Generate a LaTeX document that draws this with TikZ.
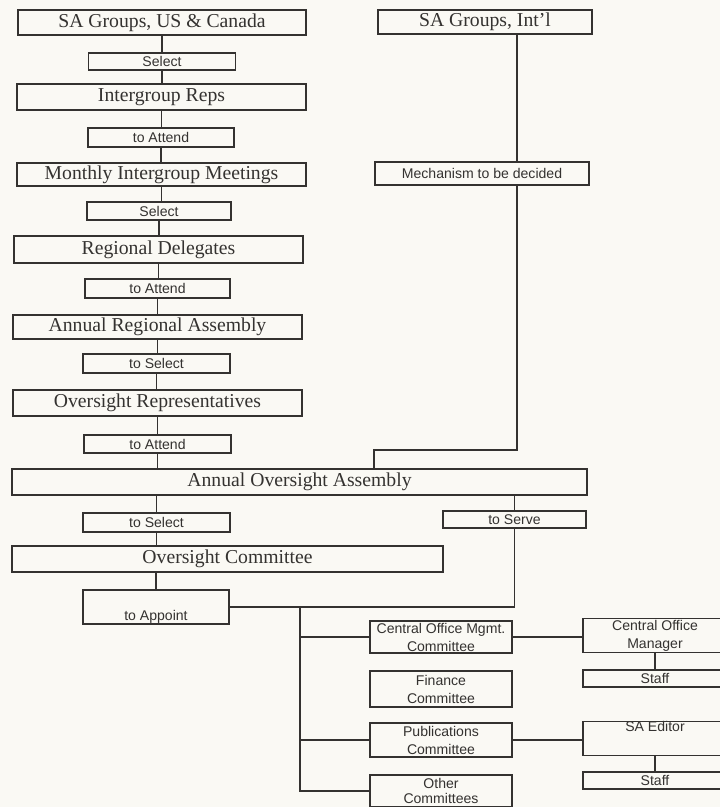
\documentclass[tikz,border=0pt]{standalone}
\usepackage{fontspec}
\setmainfont{Liberation Serif}
\setsansfont{Liberation Sans}
\definecolor{paper}{RGB}{250,249,244}
\definecolor{ink}{RGB}{52,50,48}
\tikzset{
  bigbox/.style={draw=ink, line width=1.1pt, text=ink, inner sep=0pt,
    minimum width=7.22cm, minimum height=0.63cm, font=\fontsize{14}{16}\selectfont},
  smallbox/.style={draw=ink, line width=1.1pt, text=ink, inner sep=0pt, align=center,
    minimum width=3.65cm, minimum height=0.46cm, font=\sffamily\fontsize{10}{12.8}\selectfont},
  link/.style={draw=ink, line width=1.1pt}
}
\begin{document}
\begin{tikzpicture}[x=0.025cm,y=-0.025cm]
  \path[use as bounding box, fill=paper] (0,0) rectangle (720,807);
  \clip (0,0) rectangle (720,807);
  % left column
  \node[bigbox, minimum width=7.2cm, minimum height=0.62cm] (usca) at (162,22.5) {SA Groups, US \& Canada};
  \node[smallbox, minimum width=3.675cm, minimum height=0.43cm] (sel1) at (162,61.5) {Select};
  \node[bigbox, minimum height=0.65cm] (reps) at (161.5,97) {Intergroup Reps};
  \node[smallbox, minimum height=0.47cm] (att1) at (161,137.5) {to Attend};
  \node[bigbox, minimum height=0.575cm] (monthly) at (161.5,174.5) {Monthly Intergroup Meetings};
  \node[smallbox, minimum width=3.6cm, minimum height=0.45cm] (sel2) at (159,211) {Select};
  \node[bigbox, minimum height=0.675cm] (delegates) at (158.5,249.5) {Regional Delegates};
  \node[smallbox, minimum width=3.625cm, minimum height=0.475cm] (att2) at (157.5,288.5) {to Attend};
  \node[bigbox, minimum height=0.6cm] (regional) at (157.5,327) {Annual Regional Assembly};
  \node[smallbox, minimum width=3.675cm, minimum height=0.475cm] (sel3) at (156.5,363.5) {to Select};
  \node[bigbox, minimum height=0.65cm] (overreps) at (157.5,403) {Oversight Representatives};
  \node[smallbox, minimum width=3.675cm, minimum height=0.45cm] (att3) at (157.5,444) {to Attend};
  \node[bigbox, minimum width=14.375cm, minimum height=0.65cm] (aoa) at (299.5,482) {Annual Oversight Assembly};
  \node[smallbox, minimum width=3.675cm, minimum height=0.475cm] (sel4) at (156.5,522.5) {to Select};
  \node[bigbox, minimum width=10.775cm, minimum height=0.65cm] (oc) at (227.5,559) {Oversight Committee};
  \node[smallbox, minimum height=0.85cm] (appoint) at (156,607) {\strut\\to Appoint};
  % right column
  \node[bigbox, minimum width=5.35cm, minimum height=0.6cm] (intl) at (485,22) {SA Groups, Int'l};
  \node[smallbox, minimum width=5.35cm, minimum height=0.575cm] (mech) at (482,173.5) {Mechanism to be decided};
  \node[smallbox, minimum width=3.575cm, minimum height=0.425cm] (serve) at (514.5,519.5) {to Serve};
  % committees and staff
  \node[smallbox, minimum width=3.55cm, minimum height=0.8cm] (comgmt) at (441,637) {Central Office Mgmt.\\Committee};
  \node[smallbox, minimum width=3.55cm, minimum height=0.9cm] (finance) at (441,689) {Finance\\Committee};
  \node[smallbox, minimum width=3.55cm, minimum height=0.85cm] (pubs) at (441,740) {Publications\\Committee};
  \node[smallbox, minimum width=3.55cm, minimum height=0.8cm] (other) at (441,791) {Other\\[-2pt]Committees};
  \node[smallbox, minimum width=3.6cm, minimum height=0.85cm] (comgr) at (655,635.5) {Central Office\\Manager};
  \node[smallbox, minimum width=3.6cm, minimum height=0.425cm] (staff1) at (655,678.5) {Staff};
  \node[smallbox, minimum width=3.6cm, minimum height=0.825cm] (editor) at (655,738.5) {SA Editor\\\strut};
  \node[smallbox, minimum width=3.6cm, minimum height=0.425cm] (staff2) at (655,780.5) {Staff};
  % connectors
  \foreach \a/\b in {usca/sel1, sel1/reps, reps/att1, att1/monthly, monthly/sel2, sel2/delegates,
      delegates/att2, att2/regional, regional/sel3, sel3/overreps, overreps/att3, att3/aoa}
    \draw[link] (\a.south) -- (\a.south |- \b.north);
  \draw[link] (sel4.north |- aoa.south) -- (sel4.north);
  \draw[link] (sel4.south) -- (sel4.south |- oc.north);
  \draw[link] (appoint.north |- oc.south) -- (appoint.north);
  \coordinate (k1) at (517,450);
  \coordinate (k2) at (374,450);
  \coordinate (trunk) at (300,600);
  \draw[link] (intl.south -| k1) -- (mech.north -| k1);
  \draw[link] (mech.south -| k1) -- (k1) -- (k2) -- (k2 |- aoa.north);
  \draw[link] (serve.north |- aoa.south) -- (serve.north);
  \draw[link] (appoint.east) -| (serve.south);
  \draw[link] (appoint.east -| trunk) -- (other.west -| trunk) -- (other.west);
  \draw[link] (comgmt.west -| trunk) -- (comgmt.west);
  \draw[link] (pubs.west -| trunk) -- (pubs.west);
  \draw[link] (comgmt.east) -- (comgmt.east -| comgr.west);
  \draw[link] (pubs.east) -- (pubs.east -| editor.west);
  \draw[link] (comgr.south) -- (staff1.north);
  \draw[link] (editor.south) -- (staff2.north);
\end{tikzpicture}
\end{document}
